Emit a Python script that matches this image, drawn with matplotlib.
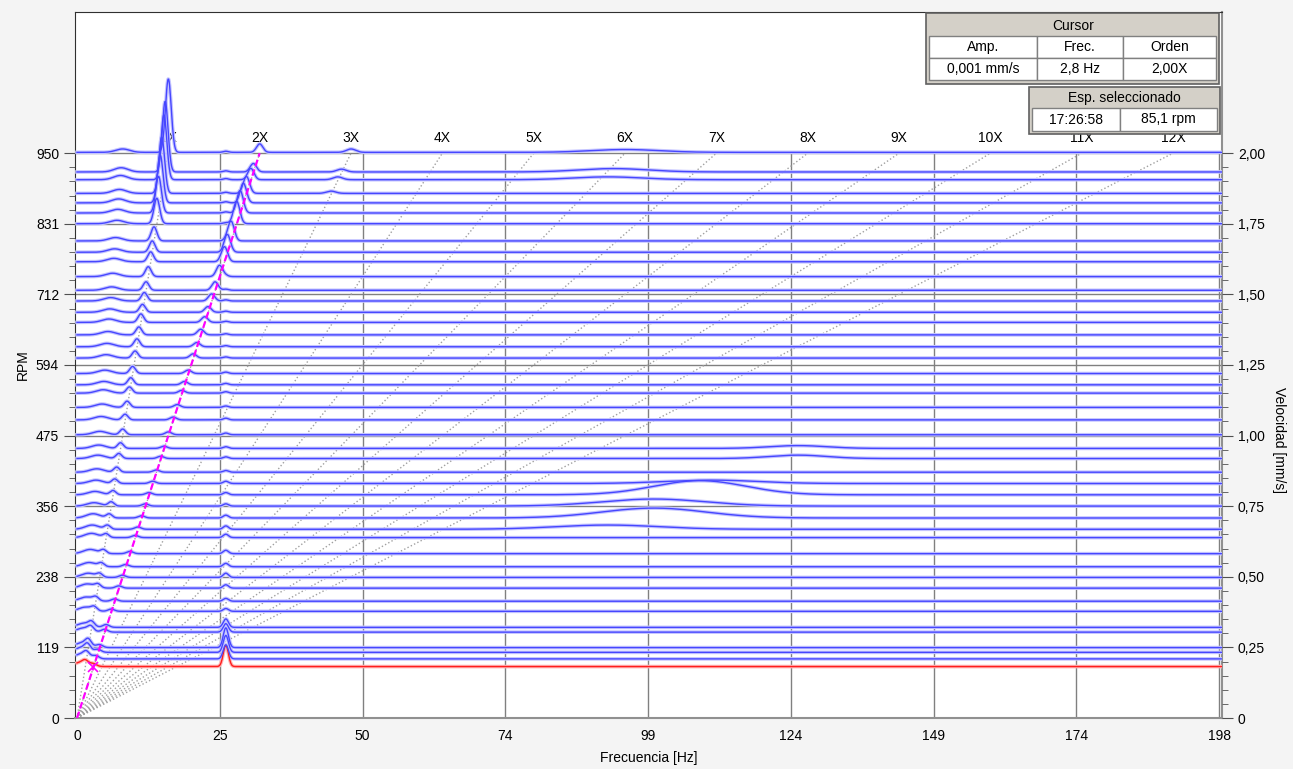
import numpy as np
import matplotlib.pyplot as plt
from matplotlib.patches import Rectangle

# velocidad de cada espectro (rpm), de arriba a abajo; el ultimo es el seleccionado (rojo)
rpm = [950, 917, 904, 881, 865, 848, 830, 801, 782, 766, 741, 718, 700, 681, 664,
       643, 623, 604, 578, 559, 545, 521, 500, 475, 452, 435, 412, 393, 374, 355,
       335, 316, 302, 275, 253, 235, 217, 195, 178, 151, 143, 117, 109, 98, 85.1]

# amplitudes (mm/s)
amp_1x = [0.26, 0.25, 0.23, 0.20, 0.17, 0.13, 0.09, 0.05, 0.04, 0.035, 0.035, 0.03, 0.03, 0.028, 0.03,
          0.028, 0.028, 0.025, 0.025, 0.025, 0.022, 0.022, 0.02, 0.02, 0.02, 0.018, 0.018, 0.016, 0.015, 0.015,
          0.014, 0.014, 0.013, 0.013, 0.012, 0.012, 0.012, 0.012, 0.012, 0.015, 0.015, 0.02, 0.02, 0.015, 0.012]
amp_2x = [0.03, 0.03, 0.04, 0.06, 0.07, 0.08, 0.08, 0.07, 0.06, 0.05, 0.04, 0.03, 0.025, 0.02, 0.02,
          0.02, 0.015, 0.015, 0.012, 0.012, 0.01, 0.01, 0.01, 0.01, 0.008, 0.008, 0.008, 0.008, 0.008, 0.008,
          0.008, 0.008, 0.008, 0.008, 0.008, 0.008, 0.008, 0.008, 0.008, 0.01, 0.01, 0.01, 0.01, 0.01, 0.008]
amp_sub = [0.012, 0.015, 0.015, 0.014, 0.014, 0.013, 0.012, 0.012, 0.012, 0.012, 0.012, 0.012, 0.012, 0.012, 0.012,
           0.012, 0.012, 0.012, 0.012, 0.012, 0.012, 0.012, 0.012, 0.012, 0.012, 0.012, 0.012, 0.012, 0.012, 0.012,
           0.015, 0.015, 0.015, 0.015, 0.015, 0.015, 0.015, 0.015, 0.015, 0.015, 0.015, 0.018, 0.018, 0.018, 0.015]
# componente fija ~25,8 Hz
amp_fix = [0.004, 0.004, 0.004, 0.004, 0.004, 0.004, 0.004, 0.004, 0.004, 0.004, 0.004, 0.004, 0.004, 0.004, 0.004,
           0.004, 0.004, 0.004, 0.005, 0.005, 0.005, 0.005, 0.006, 0.006, 0.006, 0.006, 0.006, 0.008, 0.008, 0.008,
           0.01, 0.012, 0.012, 0.012, 0.012, 0.015, 0.012, 0.01, 0.01, 0.03, 0.03, 0.07, 0.06, 0.05, 0.075]
fix_hz = 25.8

# lomas anchas
hump_rpm = [950, 917, 904, 452, 435, 393, 374, 355, 335, 316]
hump_hz = [95, 93, 92, 125, 125, 110, 108, 100, 100, 92]
hump_amp = [0.01, 0.012, 0.01, 0.01, 0.012, 0.012, 0.05, 0.025, 0.035, 0.015]
hump_w = [6, 6, 6, 5, 5, 8, 8, 9, 9, 9]

ord3_rpm = [950, 917, 904, 881]
ord3_amp = [0.012, 0.01, 0.01, 0.008]

x_ticks = [0, 24.75, 49.5, 74.25, 99, 123.75, 148.5, 173.25, 198]
x_labels = ['0', '25', '50', '74', '99', '124', '149', '174', '198']
rpm_ticks = [0, 118.75, 237.5, 356.25, 475, 593.75, 712.5, 831.25, 950]
rpm_labels = ['0', '119', '238', '356', '475', '594', '712', '831', '950']
vel_ticks = [0, 0.25, 0.5, 0.75, 1.0, 1.25, 1.5, 1.75, 2.0]
vel_labels = ['0', '0,25', '0,50', '0,75', '1,00', '1,25', '1,50', '1,75', '2,00']

cursor_hdr = ['Amp.', 'Frec.', 'Orden']
cursor_val = ['0,001 mm/s', '2,8 Hz', '2,00X']
esp_val = ['17:26:58', '85,1 rpm']
cursor_hz, cursor_rpm = 2.84, 85.1

RPM_TOP = 950
SCALE = RPM_TOP / 2.0   # rpm por mm/s

plt.rcParams['font.family'] = ['Liberation Sans', 'DejaVu Sans']
fig = plt.figure(figsize=(12.93, 7.69), dpi=100, facecolor='#f4f4f4')
ax = fig.add_axes([75/1293, 1-718/769, (1222-75)/1293, (718-12)/769])
ax.set_facecolor('white')
ax.set_xlim(-0.35, 198.5)
ax.set_ylim(0, RPM_TOP*1.25)

# rejilla
ax.vlines(x_ticks[1:], 0, RPM_TOP, color='#808080', lw=1, zorder=1)
ax.hlines(rpm_ticks[1:], -0.35, 198.5, color='#808080', lw=1, zorder=1)

# lineas de orden
for k in range(1, 13):
    ax.plot([0, k*RPM_TOP/60], [0, RPM_TOP], color='#a0a0a0', ls=':', lw=1, zorder=2)
    ax.text(k*RPM_TOP/60, 976, '%dX' % k, ha='center', va='center', fontsize=10, zorder=2)

freq = np.linspace(0, 198.5, 2400)

def peak(f0, a, s):
    return a*np.exp(-0.5*((freq-f0)/s)**2)

n = len(rpm)
for i in range(n-1, -1, -1):
    r = rpm[i]
    f1 = r/60.0
    spec = 0.003 + peak(f1, amp_1x[i], 0.5) + peak(2*f1, amp_2x[i], 0.55)
    spec += peak(0.5*f1, amp_sub[i], 1.2) + peak(fix_hz, amp_fix[i], 0.45)
    for hr, hz, ha, hw in zip(hump_rpm, hump_hz, hump_amp, hump_w):
        if hr == r:
            spec += peak(hz, ha, hw)
    for o3r, o3a in zip(ord3_rpm, ord3_amp):
        if o3r == r:
            spec += peak(3*f1, o3a, 0.8)
    y = r + spec*SCALE
    if i == n-1:
        ax.plot(freq, y, color='#ffb4b4', lw=2.6, zorder=3)
        ax.plot(freq, y, color='#ff1e1e', lw=1.0, zorder=4)
    else:
        ax.plot(freq, y, color='#c4c4ff', lw=2.6, zorder=3)
        ax.plot(freq, y, color='#4646ff', lw=1.0, zorder=4)

# cursor
ax.plot([0, 2*RPM_TOP/60], [0, RPM_TOP], color='#ff00ff', ls=(0, (3, 1.5)), lw=1.6, zorder=5)
ax.plot(cursor_hz, cursor_rpm, marker='x', color='#ff00ff', ms=7, mew=1.2, zorder=6)

ax.set_xticks(x_ticks)
ax.set_xticklabels(x_labels)
ax.set_yticks(rpm_ticks)
ax.set_yticklabels(rpm_labels)
ax.set_yticks(np.arange(0, RPM_TOP+1, RPM_TOP/40), minor=True)
ax.tick_params(axis='x', length=0, labelsize=10, pad=8)
ax.tick_params(axis='y', which='major', length=8, labelsize=10, color='#505050')
ax.tick_params(axis='y', which='minor', length=4, color='#505050')
ax.set_xlabel('Frecuencia [Hz]', fontsize=10, labelpad=6)
ax.set_ylabel('RPM', fontsize=10, labelpad=4)
for s in ['left', 'top']:
    ax.spines[s].set_color('#303030')
for s in ['right', 'bottom']:
    ax.spines[s].set_color('#909090')
    ax.spines[s].set_linewidth(1.5)

ax2 = ax.twinx()
ax2.set_ylim(0, 2.5)
ax2.set_yticks(vel_ticks)
ax2.set_yticklabels(vel_labels)
ax2.set_yticks(np.arange(0, 2.01, 0.05), minor=True)
ax2.tick_params(axis='y', which='major', length=8, labelsize=10, color='#505050')
ax2.tick_params(axis='y', which='minor', length=4, color='#505050')
ax2.set_ylabel('Velocidad [mm/s]', fontsize=10, rotation=270, va='center')
ax2.yaxis.set_label_coords(1.050, 0.394)
for s in ax2.spines.values():
    s.set_visible(False)

# tablas de cursor
def px(x, y):
    return x/1293, 1 - y/769

def box(x0, y0, x1, y1, fc, ec='#808080', lw=1):
    fx, fy = px(x0, y1)
    fig.patches.append(Rectangle((fx, fy), (x1-x0)/1293, (y1-y0)/769, transform=fig.transFigure,
                                 facecolor=fc, edgecolor=ec, lw=lw, zorder=10))

def label(x, y, s):
    fx, fy = px(x, y)
    fig.text(fx, fy, s, ha='center', va='center', fontsize=10, zorder=11)

box(926, 13, 1219, 84, '#d4d0c8', ec='#606060', lw=1.2)
label(1073, 26, 'Cursor')
cols = [929, 1037, 1123, 1216]
for j in range(3):
    box(cols[j], 36, cols[j+1], 58, 'white')
    box(cols[j], 58, cols[j+1], 80, 'white')
    label((cols[j]+cols[j+1])/2, 47, cursor_hdr[j])
    label((cols[j]+cols[j+1])/2, 69, cursor_val[j])

box(1029, 87, 1220, 134, '#d4d0c8', ec='#606060', lw=1.2)
label(1124, 98, 'Esp. seleccionado')
cols2 = [1032, 1120, 1217]
for j in range(2):
    box(cols2[j], 108, cols2[j+1], 131, 'white')
    label((cols2[j]+cols2[j+1])/2, 119.5, esp_val[j])

fig.savefig('out.png', dpi=100, facecolor=fig.get_facecolor())
